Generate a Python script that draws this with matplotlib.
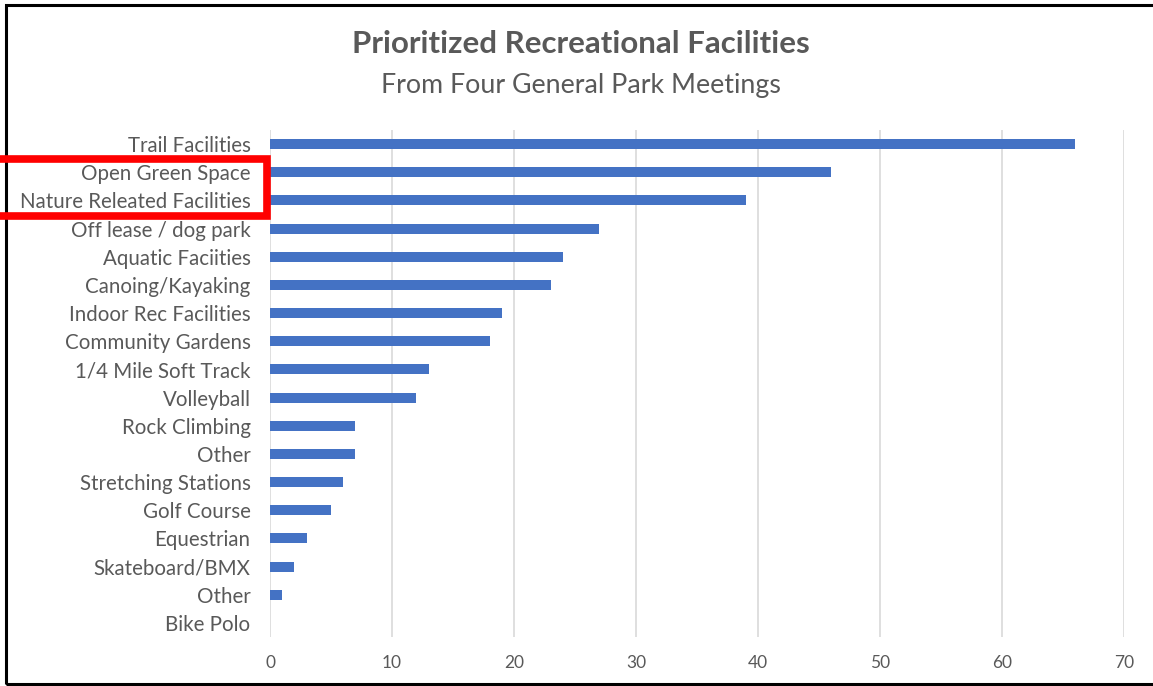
import matplotlib.pyplot as plt
from matplotlib.patches import Rectangle

# data (top to bottom as shown)
facilities = ['Trail Facilities', 'Open Green Space', 'Nature Releated Facilities',
              'Off lease / dog park', 'Aquatic Faciities', 'Canoing/Kayaking',
              'Indoor Rec Facilities', 'Community Gardens', '1/4 Mile Soft Track',
              'Volleyball', 'Rock Climbing', 'Other', 'Stretching Stations',
              'Golf Course', 'Equestrian', 'Skateboard/BMX', 'Other', 'Bike Polo']
votes = [66, 46, 39, 27, 24, 23, 19, 18, 13, 12, 7, 7, 6, 5, 3, 2, 1, 0]
x_ticks = [0, 10, 20, 30, 40, 50, 60, 70]

plt.rcParams['font.family'] = ['Lato', 'DejaVu Sans']
gray = '#595959'

fig = plt.figure(figsize=(11.53, 6.86), dpi=100)
ax = fig.add_axes([270 / 1153, 1 - 637 / 686, (1124 - 270) / 1153, (637 - 130) / 686])

pos = list(range(len(facilities)))
ax.barh(pos, votes, height=0.36, color='#4472C4', zorder=3)
ax.set_ylim(len(facilities) - 0.5, -0.5)
ax.set_xlim(0, 70)
ax.set_yticks(pos)
ax.set_yticklabels(facilities, fontsize=14.8, color=gray)
ax.set_xticks(x_ticks)
ax.set_xticklabels([str(t) for t in x_ticks], fontsize=12.5, color=gray)
ax.tick_params(length=0)
ax.tick_params(axis='y', pad=14)
ax.tick_params(axis='x', pad=13)
ax.grid(axis='x', color='#D9D9D9', linewidth=1.2, zorder=0)
for s in ax.spines.values():
    s.set_visible(False)

fig.text(581 / 1153, 1 - 44 / 686, 'Prioritized Recreational Facilities',
         ha='center', va='center', fontsize=22.5, fontweight='bold', color=gray)
fig.text(581 / 1153, 1 - 85 / 686, 'From Four General Park Meetings',
         ha='center', va='center', fontsize=19.3, color=gray)

# outer frame
fig.patches.append(Rectangle((6 / 1153, 1 - 684 / 686), 1.2, (684 - 5) / 686,
                             transform=fig.transFigure, fill=False,
                             edgecolor='black', linewidth=2.2))
# red highlight box
fig.patches.append(Rectangle((-10 / 1153, 1 - 216 / 686), 277 / 1153, 57 / 686,
                             transform=fig.transFigure, fill=False,
                             edgecolor='#FF0000', linewidth=5.5))

fig.savefig('out.png', dpi=100)
